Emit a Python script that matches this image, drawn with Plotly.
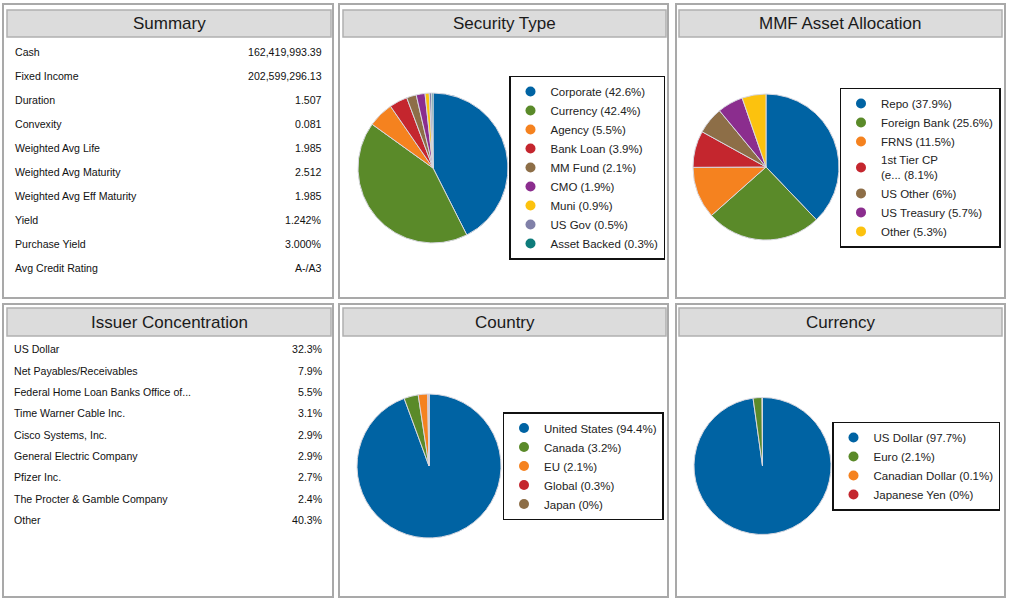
import plotly.graph_objects as go

W, H = 1011, 601

# ---------------- data ----------------
summary_labels = ["Cash", "Fixed Income", "Duration", "Convexity", "Weighted Avg Life",
                  "Weighted Avg Maturity", "Weighted Avg Eff Maturity", "Yield",
                  "Purchase Yield", "Avg Credit Rating"]
summary_values = ["162,419,993.39", "202,599,296.13", "1.507", "0.081", "1.985",
                  "2.512", "1.985", "1.242%", "3.000%", "A-/A3"]

issuer_labels = ["US Dollar", "Net Payables/Receivables", "Federal Home Loan Banks Office of...",
                 "Time Warner Cable Inc.", "Cisco Systems, Inc.", "General Electric Company",
                 "Pfizer Inc.", "The Procter & Gamble Company", "Other"]
issuer_values = [32.3, 7.9, 5.5, 3.1, 2.9, 2.9, 2.7, 2.4, 40.3]

sec_labels = ["Corporate", "Currency", "Agency", "Bank Loan", "MM Fund", "CMO", "Muni",
              "US Gov", "Asset Backed"]
sec_values = [42.6, 42.4, 5.5, 3.9, 2.1, 1.9, 0.9, 0.5, 0.3]

mmf_labels = ["Repo", "Foreign Bank", "FRNS", "1st Tier CP (e...", "US Other", "US Treasury", "Other"]
mmf_values = [37.9, 25.6, 11.5, 8.1, 6, 5.7, 5.3]

country_labels = ["United States", "Canada", "EU", "Global", "Japan"]
country_values = [94.4, 3.2, 2.1, 0.3, 0]

currency_labels = ["US Dollar", "Euro", "Canadian Dollar", "Japanese Yen"]
currency_values = [97.7, 2.1, 0.1, 0]

palette = ["#0063a3", "#5a8a29", "#f5821f", "#c4262e", "#8d6e47",
           "#8b2d8e", "#fcc20e", "#8080a8", "#0e7c7b"]

# ---------------- layout helpers ----------------
def px(x):
    return x / W

def py(y):
    return 1 - y / H

FONT = "Liberation Sans, Arial, sans-serif"

fig = go.Figure()
shapes = []
annotations = []

panels = [  # outer panel (x0,y0,x1,y1), header (x0,y0,x1,y1), title
    ((3, 4, 333, 298), (7, 10, 331, 37), "Summary"),
    ((339, 4, 668, 298), (343, 10, 666, 37), "Security Type"),
    ((676, 4, 1005, 298), (679, 10, 1002, 37), "MMF Asset Allocation"),
    ((3, 304, 333, 597), (7, 308, 331, 336), "Issuer Concentration"),
    ((339, 304, 668, 597), (343, 308, 666, 336), "Country"),
    ((676, 304, 1005, 597), (679, 308, 1002, 336), "Currency"),
]
for (ox0, oy0, ox1, oy1), (hx0, hy0, hx1, hy1), title in panels:
    shapes.append(dict(type="rect", xref="paper", yref="paper",
                       x0=px(ox0), x1=px(ox1), y0=py(oy1), y1=py(oy0),
                       line=dict(color="#a9a9a9", width=2), fillcolor="rgba(0,0,0,0)"))
    shapes.append(dict(type="rect", xref="paper", yref="paper",
                       x0=px(hx0), x1=px(hx1), y0=py(hy1), y1=py(hy0),
                       line=dict(color="#b0b0b0", width=1.5), fillcolor="#dcdcdc"))
    annotations.append(dict(xref="paper", yref="paper", x=px((hx0 + hx1) / 2),
                            y=py((hy0 + hy1) / 2), text=title, showarrow=False,
                            xanchor="center", yanchor="middle",
                            font=dict(family=FONT, size=17, color="#1a1a1a")))

# Summary table
for i, (lab, val) in enumerate(zip(summary_labels, summary_values)):
    yy = 52.3 + i * 24
    annotations.append(dict(xref="paper", yref="paper", x=px(13), y=py(yy), text=lab,
                            showarrow=False, xanchor="left", yanchor="middle",
                            font=dict(family=FONT, size=10.6, color="#111")))
    annotations.append(dict(xref="paper", yref="paper", x=px(324), y=py(yy), text=val,
                            showarrow=False, xanchor="right", yanchor="middle",
                            font=dict(family=FONT, size=10.6, color="#111")))

# Issuer concentration table
for i, (lab, val) in enumerate(zip(issuer_labels, issuer_values)):
    yy = 349.3 + i * 21.35
    annotations.append(dict(xref="paper", yref="paper", x=px(12.3), y=py(yy), text=lab,
                            showarrow=False, xanchor="left", yanchor="middle",
                            font=dict(family=FONT, size=10.6, color="#111")))
    annotations.append(dict(xref="paper", yref="paper", x=px(325), y=py(yy),
                            text=f"{val:g}%", showarrow=False, xanchor="right",
                            yanchor="middle",
                            font=dict(family=FONT, size=10.6, color="#111")))

# Pies
pies = [
    (sec_labels, sec_values, (433, 168, 75), "legend", (587, 167.5)),
    (mmf_labels, mmf_values, (766, 167, 73), "legend2", (920, 167.5)),
    (country_labels, country_values, (429, 466, 72), "legend3", (583, 466)),
    (currency_labels, currency_values, (762.5, 466, 68.5), "legend4", (916, 466)),
]

legend_layouts = {}
for labels, values, (cx, cy, r), leg, (lx, ly) in pies:
    cols = palette[:len(labels)]
    fig.add_trace(go.Pie(
        labels=labels, values=values, sort=False, direction="clockwise", rotation=0,
        textinfo="none", hoverinfo="label+percent", showlegend=False,
        marker=dict(colors=cols, line=dict(color="#d8d8e0", width=1)),
        domain=dict(x=[px(cx - r), px(cx + r)], y=[py(cy + r), py(cy - r)]),
    ))
    for lab, val, col in zip(labels, values, cols):
        name = f"{lab} ({val:g}%)"
        if lab.startswith("1st Tier CP"):
            name = name.replace("CP (", "CP<br>(", 1)
        fig.add_trace(go.Scatter(
            x=[None], y=[None], mode="markers", name=name, legend=leg,
            marker=dict(symbol="circle", size=10, color=col), hoverinfo="skip",
        ))
    legend_layouts[leg] = dict(
        x=px(lx), y=py(ly), xanchor="center", yanchor="middle",
        bgcolor="white", bordercolor="#111", borderwidth=1.5,
        font=dict(family=FONT, size=11.5, color="#222"),
        itemclick=False, itemdoubleclick=False,
    )

fig.update_layout(
    width=W, height=H, margin=dict(l=0, r=0, t=0, b=0),
    paper_bgcolor="white", plot_bgcolor="white",
    xaxis=dict(visible=False), yaxis=dict(visible=False),
    shapes=shapes, annotations=annotations,
    **legend_layouts,
)

fig.write_html("out.html", config={"displayModeBar": False},
               post_script="document.body.style.margin='0px';document.body.style.overflow='hidden';")
